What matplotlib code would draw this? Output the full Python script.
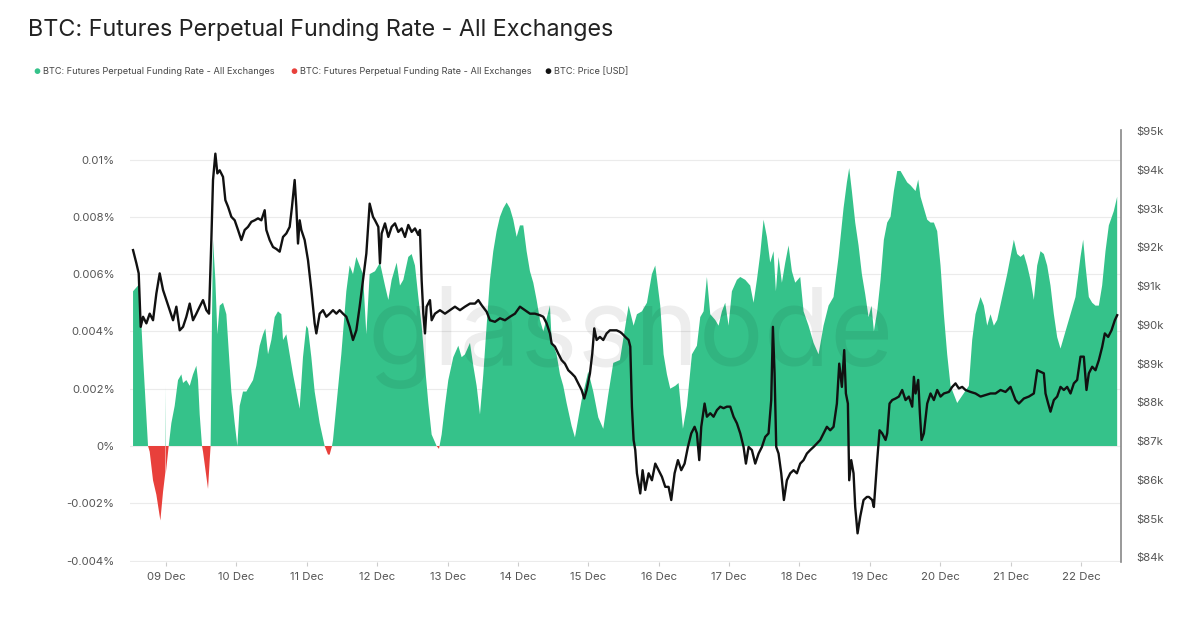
import numpy as np
import matplotlib
matplotlib.use("Agg")
from matplotlib import pyplot as plt

plt.rcParams['font.family'] = ['Inter', 'DejaVu Sans']

### funding rate (% per period), hours counted from 09 Dec 00:00
funding_hours = [
    -11.25, -9.55, -8.98, -7.84, -6.14, -5.57, -4.43, -3.30, -1.93, -1.02, -0.20, -0.11, -0.02, 0.91,
    1.25, 1.82, 2.95, 4.09, 5.23, 5.80, 6.93, 8.07, 9.20, 10.34, 10.91, 11.48, 12.27, 12.61, 14.32,
    14.89, 15.20, 15.68, 16.02, 16.82, 17.50, 18.30, 19.43, 20.57, 21.14, 22.27, 23.41, 24.32, 25.11,
    26.25, 27.39, 28.52, 29.66, 30.80, 31.93, 33.07, 33.86, 34.77, 35.91, 37.05, 38.18, 39.32, 39.89,
    41.02, 42.16, 43.30, 44.43, 45.57, 46.70, 47.84, 48.41, 49.55, 50.68, 52.39, 54.09, 55.23, 55.80,
    56.59, 56.93, 58.07, 59.77, 61.48, 62.61, 63.75, 64.89, 66.02, 67.16, 68.30, 69.43,
    71.25, 72.95, 74.66, 75.80, 76.93, 78.64, 79.77, 80.91, 82.61, 83.75, 84.89, 86.02, 87.16, 88.30,
    89.43, 90.57, 92.27, 93.07, 93.98, 95.11, 96.25, 97.95, 99.66, 100.80, 101.93, 103.64, 104.77,
    105.91, 107.05, 108.18, 109.32, 110.45, 111.59, 112.73, 113.86, 115.00, 116.14, 117.27, 118.41,
    119.55, 120.68, 121.82, 122.95, 124.09, 125.23, 126.36, 127.50, 128.64, 130.91, 131.48, 133.18,
    134.32, 135.45, 136.59, 138.30, 139.43, 141.70, 143.98, 145.68, 147.39, 149.09, 150.80, 152.50,
    154.77,
    157.73, 159.43, 160.57, 162.27, 163.98, 165.68, 166.82, 168.52, 169.66, 170.80, 171.93, 173.64,
    174.77, 175.34, 176.25, 177.61, 179.32, 181.02, 182.16, 183.30, 184.43, 185.57, 187.27, 188.41,
    189.55, 190.68, 191.82, 192.95, 194.66, 195.80, 197.50, 199.20, 200.34, 201.48, 202.61, 203.75,
    204.89, 206.02, 207.16, 207.95, 208.86, 210.00, 211.14, 212.27, 213.41, 214.55, 216.25, 217.39,
    219.09, 220.80, 222.50, 224.20, 225.91, 227.61, 229.32, 231.02, 232.16, 232.95, 233.86, 235.00,
    236.14, 237.27, 238.41, 239.55,
    240.57, 241.36, 242.50, 243.64, 244.77, 245.91, 247.05, 248.18, 249.32, 250.45, 251.59, 252.73,
    253.86, 255.57, 256.48, 257.27, 258.41, 259.55, 260.68, 261.82, 262.95, 264.09, 265.23, 266.36,
    267.50, 269.77, 273.75, 274.89, 276.02, 277.73, 278.86, 280.00, 281.14, 282.27, 283.41, 285.11,
    286.82, 287.95, 289.09, 290.23, 291.36, 292.50, 293.64, 294.77, 295.91, 297.05, 298.18, 299.32,
    300.45, 301.59, 302.73, 303.86, 305.00, 306.70, 308.41, 310.11, 311.82, 312.73, 313.52, 314.66,
    315.80, 316.93, 318.07, 319.20, 320.34, 321.48, 323.18, 324.32]
funding_rate = [
    0.0054, 0.0056, 0.0054, 0.0031, 0.0, -0.0002, -0.0012, -0.0017, -0.0026, -0.0016, -0.0009, 0.0021, -0.0009, 0.0,
    0.0003, 0.0008, 0.0014, 0.0023, 0.0025, 0.0022, 0.0023, 0.0021, 0.0025, 0.0028, 0.0023, 0.0011, 0.0, -0.0002, -0.0015,
    -0.0005, 0.0, 0.0045, 0.0072, 0.0058, 0.0039, 0.0049, 0.0050, 0.0046, 0.0037, 0.0019, 0.0008, 0.0, 0.0014,
    0.0019, 0.0019, 0.0021, 0.0023, 0.0028, 0.0035, 0.0039, 0.0041, 0.0032, 0.0037, 0.0045, 0.0047, 0.0046, 0.0037,
    0.0039, 0.0032, 0.0025, 0.0019, 0.0013, 0.0031, 0.0042, 0.0041, 0.0031, 0.0019, 0.0008, 0.0, -0.0003, -0.0003,
    0.0, 0.0002, 0.0014, 0.0032, 0.0054, 0.0063, 0.0060, 0.0066, 0.0063, 0.0060, 0.0039, 0.0060,
    0.0061, 0.0064, 0.0056, 0.0051, 0.0058, 0.0064, 0.0056, 0.0058, 0.0066, 0.0067, 0.0063, 0.0052, 0.0042, 0.0028,
    0.0015, 0.0004, 0.0, -0.0001, 0.0004, 0.0014, 0.0023, 0.0031, 0.0035, 0.0031, 0.0032, 0.0036, 0.0028,
    0.0021, 0.0011, 0.0025, 0.0042, 0.0058, 0.0068, 0.0075, 0.0080, 0.0083, 0.0085, 0.0083, 0.0079,
    0.0073, 0.0077, 0.0077, 0.0068, 0.0061, 0.0057, 0.0051, 0.0044, 0.0040, 0.0049, 0.0037, 0.0032,
    0.0025, 0.0021, 0.0015, 0.0007, 0.0003, 0.0016, 0.0026, 0.0019, 0.0010, 0.0006, 0.0018, 0.0029,
    0.0030,
    0.0049, 0.0042, 0.0046, 0.0047, 0.0050, 0.0060, 0.0063, 0.0049, 0.0032, 0.0025, 0.0020, 0.0021,
    0.0022, 0.0016, 0.0006, 0.0014, 0.0032, 0.0035, 0.0045, 0.0047, 0.0059, 0.0046, 0.0044, 0.0042,
    0.0047, 0.0050, 0.0042, 0.0054, 0.0058, 0.0059, 0.0058, 0.0056, 0.0050, 0.0058, 0.0067, 0.0079,
    0.0073, 0.0064, 0.0068, 0.0054, 0.0066, 0.0057, 0.0064, 0.0070, 0.0061, 0.0057, 0.0059, 0.0047,
    0.0042, 0.0036, 0.0032, 0.0042, 0.0049, 0.0052, 0.0066, 0.0083, 0.0092, 0.0097, 0.0089, 0.0078,
    0.0070, 0.0060, 0.0053, 0.0045,
    0.0049, 0.0040, 0.0047, 0.0058, 0.0072, 0.0078, 0.0080, 0.0089, 0.0096, 0.0096, 0.0094, 0.0092,
    0.0091, 0.0089, 0.0093, 0.0087, 0.0083, 0.0079, 0.0078, 0.0078, 0.0075, 0.0063, 0.0046, 0.0032,
    0.0021, 0.0015, 0.0021, 0.0037, 0.0046, 0.0052, 0.0049, 0.0042, 0.0046, 0.0042, 0.0044, 0.0052,
    0.0060, 0.0066, 0.0072, 0.0067, 0.0066, 0.0067, 0.0063, 0.0058, 0.0051, 0.0063, 0.0068, 0.0067,
    0.0063, 0.0056, 0.0046, 0.0038, 0.0034, 0.0040, 0.0046, 0.0052, 0.0066, 0.0072, 0.0063, 0.0052,
    0.0050, 0.0049, 0.0049, 0.0056, 0.0068, 0.0077, 0.0082, 0.0087]

### BTC price in thousands of USD
price_hours = [
    -11.25, -10.11, -9.32, -8.64, -7.84, -6.70, -5.57, -4.43, -3.30, -2.16, -1.02, 0.11, 1.25, 2.39,
    3.52, 4.66, 5.80, 6.93, 8.07, 9.20, 10.34, 11.48, 12.61, 13.75, 14.66, 15.45, 16.02, 16.82, 17.50,
    18.30, 19.43, 20.23, 21.14, 22.27, 23.41, 24.55, 25.68, 26.82, 27.95, 29.09, 30.23, 31.36, 32.50,
    33.64, 34.20, 35.34, 36.48, 37.61, 38.75, 39.89, 41.02, 42.16, 42.95, 43.86, 44.43, 45.00, 45.57,
    46.14, 47.27, 48.41, 49.55, 50.68, 51.25, 52.39, 53.52, 54.66, 55.80, 56.93, 58.07, 59.20, 60.34,
    61.48, 62.61, 63.75, 64.89, 66.02, 67.16, 68.30, 69.43, 70.57,
    71.25, 72.39, 72.95, 73.52, 74.66, 75.80, 76.93, 78.07, 79.20, 80.34, 81.48, 82.61, 83.75, 84.89,
    86.02, 86.59, 87.16, 87.73, 88.30, 88.86, 90.00, 90.57, 91.70, 93.41, 95.11, 96.82, 98.52, 100.23,
    101.93, 103.64, 105.34, 106.48, 107.61, 109.32, 110.45, 112.16, 113.86, 115.57, 117.27, 118.98,
    120.68, 122.39, 124.09, 125.80, 127.50, 128.64, 129.77, 130.91, 131.48, 132.61, 133.75, 134.89,
    136.02, 137.16, 138.30, 139.43, 140.57, 141.70, 142.61, 143.41, 144.55, 145.34, 146.02, 146.82,
    147.95, 149.09, 150.23, 151.36, 152.50, 153.64, 154.77,
    155.45, 156.59, 157.73, 158.30, 158.86, 159.43, 160.00, 160.57, 161.70, 162.50, 163.41, 164.55,
    165.68, 166.82, 167.95, 169.09, 170.23, 171.36, 172.27, 173.41, 174.55, 175.68, 176.82, 177.95,
    179.09, 180.23, 181.02, 181.82, 182.50, 183.64, 184.43, 185.57, 186.70, 187.84, 188.98, 190.11,
    191.25, 192.39, 193.52, 194.66, 195.80, 196.93, 197.73, 198.64, 199.77, 200.91, 202.05, 203.18,
    204.32, 205.45, 206.36, 206.93, 207.50, 208.07, 208.86, 209.77, 210.68, 211.70, 212.84, 213.98,
    215.11, 216.25, 217.39, 218.52, 219.66, 220.80, 221.93, 223.07, 224.20, 225.34, 226.48, 227.61,
    228.75, 229.55, 230.45, 231.25, 231.82, 232.50, 232.95, 233.64, 234.43, 235.00, 235.80, 236.70,
    237.84, 238.98,
    239.66, 240.80, 241.36, 242.50, 243.30, 244.20, 245.34, 245.91, 246.70, 247.61, 248.75, 249.89,
    251.02, 252.16, 253.30, 254.43, 255.00, 255.57, 256.48, 257.05, 257.61, 258.41, 259.55, 260.68,
    261.82, 262.95, 264.09, 265.23, 266.93, 268.07, 269.20, 270.34, 271.48, 272.61, 274.32, 276.02,
    277.73, 279.43, 281.14, 282.84, 284.55, 286.25, 287.95, 289.66, 290.80, 292.50, 294.20, 295.91,
    297.05, 298.18, 299.32, 299.89, 300.80, 301.59, 302.73, 303.86, 305.00, 306.14, 307.27, 308.41,
    309.55, 310.68, 311.82, 312.95, 313.86, 314.66, 315.80, 316.93, 318.07, 319.20, 320.11, 321.25,
    322.39, 323.52, 324.32]
price_k = [
    91.93, 91.59, 91.33, 89.95, 90.21, 90.04, 90.29, 90.12, 90.81, 91.33, 90.90, 90.64, 90.38, 90.12,
    90.47, 89.86, 89.95, 90.21, 90.55, 90.12, 90.29, 90.47, 90.64, 90.38, 90.29, 92.19, 93.74, 94.42, 93.91,
    93.99, 93.82, 93.22, 93.05, 92.79, 92.70, 92.45, 92.19, 92.45, 92.53, 92.66, 92.70, 92.75, 92.70,
    92.96, 92.45, 92.19, 92.01, 91.96, 91.89, 92.27, 92.36, 92.53, 93.05, 93.74, 93.05, 92.10, 92.70,
    92.45, 92.19, 91.67, 90.90, 90.04, 89.78, 90.29, 90.38, 90.21, 90.29, 90.38, 90.29, 90.38, 90.29,
    90.21, 89.95, 89.61, 89.86, 90.47, 91.15, 91.84, 93.13, 92.79,
    92.70, 92.53, 91.59, 92.36, 92.62, 92.27, 92.53, 92.62, 92.40, 92.49, 92.27, 92.58, 92.40, 92.49,
    92.32, 92.45, 91.15, 90.29, 89.78, 90.47, 90.64, 90.12, 90.29, 90.38, 90.29, 90.38, 90.47, 90.38,
    90.47, 90.55, 90.55, 90.64, 90.51, 90.34, 90.12, 90.08, 90.17, 90.12, 90.21, 90.29,
    90.47, 90.38, 90.29, 90.29, 90.25, 90.21, 90.04, 89.78, 89.52, 89.44, 89.26, 89.09,
    89.00, 88.83, 88.75, 88.66, 88.49, 88.32, 88.10, 88.32, 88.75, 89.26, 89.91, 89.61,
    89.69, 89.61, 89.78, 89.86, 89.86, 89.86, 89.82,
    89.78, 89.69, 89.61, 89.44, 87.89, 87.03, 86.77, 86.17, 85.65, 86.25, 85.74, 86.17,
    85.99, 86.42, 86.25, 86.08, 85.82, 85.82, 85.48, 86.17, 86.51, 86.25, 86.42, 86.85,
    87.20, 87.37, 87.20, 86.51, 87.37, 87.97, 87.63, 87.72, 87.63, 87.80, 87.89, 87.85,
    87.89, 87.89, 87.63, 87.46, 87.20, 86.85, 86.42, 86.85, 86.77, 86.42, 86.68, 86.85,
    87.11, 87.20, 88.06, 89.95, 88.75, 86.85, 86.68, 86.17, 85.48, 85.99, 86.17, 86.25,
    86.17, 86.42, 86.51, 86.68, 86.77, 86.85, 86.94, 87.03, 87.20, 87.37, 87.28, 87.37,
    87.97, 89.00, 88.40, 89.35, 88.23, 87.97, 85.99, 86.51, 86.17, 85.30, 84.62, 85.05,
    85.48, 85.56,
    85.56, 85.48, 85.30, 86.51, 87.28, 87.20, 87.03, 87.20, 87.97, 88.06, 88.10, 88.15,
    88.32, 88.06, 88.15, 87.89, 88.66, 88.23, 88.58, 87.72, 87.03, 87.20, 87.97, 88.23,
    88.06, 88.32, 88.15, 88.23, 88.27, 88.40, 88.49, 88.36, 88.40, 88.32, 88.27, 88.23,
    88.15, 88.19, 88.23, 88.23, 88.32, 88.27, 88.40, 88.06, 87.97, 88.10, 88.15, 88.23,
    88.83, 88.79, 88.75, 88.23, 87.97, 87.76, 88.06, 88.15, 88.40, 88.32, 88.40, 88.23,
    88.49, 88.58, 89.18, 89.18, 88.32, 88.75, 88.92, 88.83, 89.09, 89.43, 89.78, 89.69,
    89.86, 90.12, 90.25]

day_ticks = [0, 24, 48, 72, 96, 120, 144, 168, 192, 216, 240, 264, 288, 312]
day_labels = ['09 Dec', '10 Dec', '11 Dec', '12 Dec', '13 Dec', '14 Dec', '15 Dec',
              '16 Dec', '17 Dec', '18 Dec', '19 Dec', '20 Dec', '21 Dec', '22 Dec']
rate_ticks = [-0.004, -0.002, 0, 0.002, 0.004, 0.006, 0.008, 0.01]
rate_labels = ['-0.004%', '-0.002%', '0%', '0.002%', '0.004%', '0.006%', '0.008%', '0.01%']
price_ticks = [84, 85, 86, 87, 88, 89, 90, 91, 92, 93, 94, 95]
price_labels = ['$84k', '$85k', '$86k', '$87k', '$88k', '$89k', '$90k', '$91k', '$92k', '$93k', '$94k', '$95k']

green = '#35c28a'
red = '#e8403b'

fr = np.array(funding_rate)
fh = np.array(funding_hours)

fig = plt.figure(figsize=(12, 6.29), dpi=100)
ax = fig.add_axes([0.1083, 0.1065, 0.8258, 0.6868])

ax.fill_between(fh, fr, 0, where=fr >= 0, interpolate=True, color=green, lw=0, zorder=2)
ax.fill_between(fh, fr, 0, where=fr <= 0, interpolate=True, color=red, lw=0, zorder=2)

ax.set_xlim(-12.3, 325.6)
ax.set_ylim(-0.00405, 0.01103)
ax.set_yticks(rate_ticks)
ax.set_yticklabels(rate_labels)
ax.set_xticks(day_ticks)
ax.set_xticklabels(day_labels)
ax.yaxis.grid(True, color='#ebebeb', lw=0.8)
ax.set_axisbelow(True)
for s in ax.spines.values():
    s.set_visible(False)
ax.tick_params(axis='y', length=0, pad=11, labelsize=8.2, labelcolor='#555555')
ax.tick_params(axis='x', length=3, width=0.8, color='#cccccc', pad=4, labelsize=8.2, labelcolor='#555555')

# watermark
ax.text(0.505, 0.52, 'glassnode', transform=ax.transAxes, fontsize=78, color='#000000',
        alpha=0.07, ha='center', va='center', zorder=3)

ax2 = ax.twinx()
ax2.plot(price_hours, price_k, color='#111111', lw=1.7)
ax2.set_ylim(83.88, 95.03)
ax2.set_yticks(price_ticks)
ax2.set_yticklabels(price_labels)
for k in ['top', 'left', 'bottom']:
    ax2.spines[k].set_visible(False)
ax2.spines['right'].set_color('#888888')
ax2.spines['right'].set_linewidth(1.2)
ax2.tick_params(axis='y', length=0, pad=11, labelsize=8.2, labelcolor='#555555')

fig.text(0.0233, 1 - 30 / 629, 'BTC: Futures Perpetual Funding Rate - All Exchanges',
         fontsize=16.8, color='#222222', va='center', ha='left')

# legend row
leg_y = 1 - 72 / 629
legend_items = [(37, green, 'BTC: Futures Perpetual Funding Rate - All Exchanges'),
                (294, red, 'BTC: Futures Perpetual Funding Rate - All Exchanges'),
                (548, '#111111', 'BTC: Price [USD]')]
for px, col, lab in legend_items:
    fig.text(px / 1200, leg_y, '●', color=col, fontsize=5.5, va='center', ha='center')
    fig.text((px + 6) / 1200, leg_y, lab, color='#444444', fontsize=6.6, va='center', ha='left')

fig.savefig('out.png', dpi=100, facecolor='white')
